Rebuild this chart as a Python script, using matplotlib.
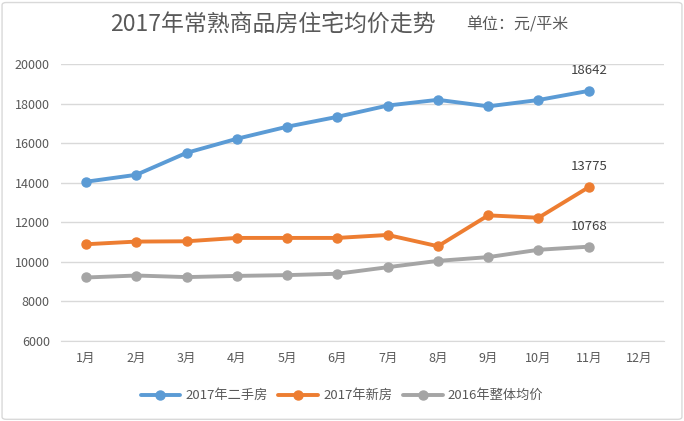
import matplotlib
matplotlib.use("Agg")
import matplotlib.pyplot as plt
from matplotlib.patches import FancyBboxPatch

plt.rcParams['font.family'] = ['Noto Sans CJK SC', 'DejaVu Sans']

months = ['1月', '2月', '3月', '4月', '5月', '6月', '7月', '8月', '9月', '10月', '11月', '12月']
second_hand_2017 = [14050, 14400, 15510, 16220, 16830, 17330, 17900, 18190, 17860, 18180, 18642]
new_2017 = [10890, 11025, 11040, 11210, 11210, 11210, 11360, 10790, 12350, 12230, 13775]
overall_2016 = [9210, 9310, 9230, 9290, 9330, 9400, 9730, 10050, 10240, 10610, 10768]
series_names = ['2017年二手房', '2017年新房', '2016年整体均价']
colors = ['#5B9BD5', '#ED7D31', '#A5A5A5']
yticks = list(range(6000, 20001, 2000))

fig = plt.figure(figsize=(6.84, 4.21), dpi=100)
fig.patches.append(FancyBboxPatch((0.003, 0.004), 0.994, 0.99, boxstyle="round,pad=0,rounding_size=0.006",
                                  transform=fig.transFigure, fill=False, edgecolor='#D9D9D9', linewidth=1))
ax = fig.add_axes([0.089, 0.19, 0.882, 0.658])

x = list(range(len(months)))
for vals, name, c in zip([second_hand_2017, new_2017, overall_2016], series_names, colors):
    ax.plot(x[:len(vals)], vals, color=c, linewidth=2.8, marker='o', markersize=6.5, label=name,
            solid_capstyle='round', zorder=3)
    ax.annotate(f"{vals[-1]}", (x[len(vals) - 1], vals[-1]), xytext=(0, 10), textcoords='offset points',
                ha='center', va='bottom', fontsize=9.5, color='#404040')

ax.set_xlim(-0.5, len(months) - 0.5)
ax.set_ylim(6000, 20000)
ax.set_yticks(yticks)
ax.set_xticks(x)
ax.set_xticklabels(months)
ax.grid(axis='y', color='#D9D9D9', linewidth=1)
ax.set_axisbelow(True)
for s in ['top', 'right', 'left']:
    ax.spines[s].set_visible(False)
ax.spines['bottom'].set_color('#D9D9D9')
ax.tick_params(axis='both', length=0, labelsize=9, colors='#595959')
ax.tick_params(axis='x', pad=8)
ax.tick_params(axis='y', pad=8)

fig.text(0.161, 0.94, '2017年常熟商品房住宅均价走势', fontsize=16.5, color='#595959', ha='left', va='center')
fig.text(0.682, 0.94, '单位：元/平米', fontsize=11.5, color='#595959', ha='left', va='center')

leg = fig.legend(loc='center', bbox_to_anchor=(0.5, 0.06), ncol=3, frameon=False, fontsize=9.5,
                 handlelength=3, columnspacing=0.8, handletextpad=0.4)
for t in leg.get_texts():
    t.set_color('#595959')

fig.savefig('out.png', dpi=100)
